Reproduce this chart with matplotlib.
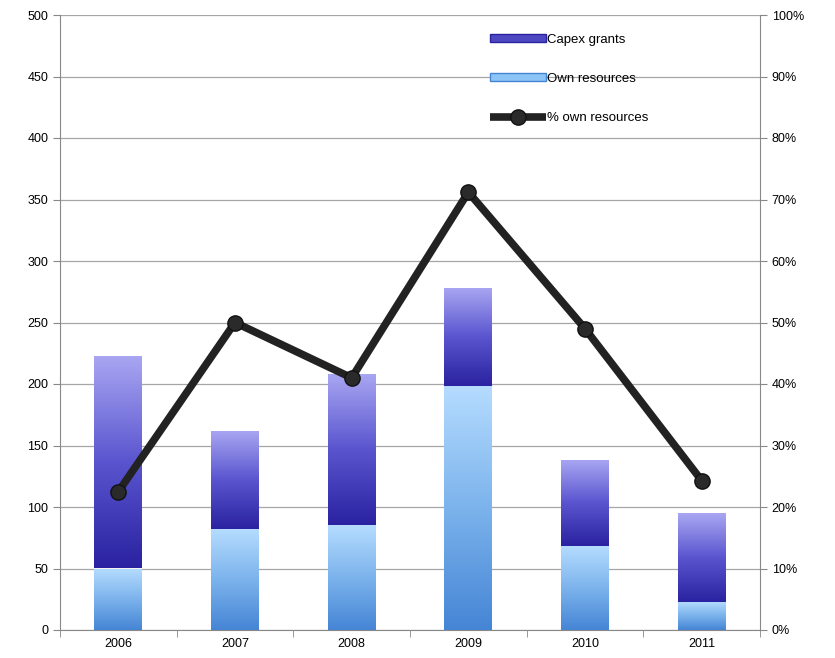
import numpy as np
import matplotlib
matplotlib.use("Agg")
import matplotlib.pyplot as plt
from matplotlib.colors import LinearSegmentedColormap
from matplotlib.ticker import PercentFormatter
from matplotlib.patches import Patch

plt.rcParams['font.family'] = ['Liberation Sans', 'DejaVu Sans']

years = ['2006', '2007', '2008', '2009', '2010', '2011']
own_resources = [50, 82, 85, 198, 68, 23]
capex_grants = [173, 80, 123, 80, 70, 72]
pct_own = [22.5, 50.0, 41.0, 71.2, 49.0, 24.3]

capex_cmap = LinearSegmentedColormap.from_list('capex', ['#2a22a0', '#5a55cf', '#a9a7f2'])
own_cmap = LinearSegmentedColormap.from_list('own', ['#4585d5', '#7cb3ec', '#b5dcff'])


def fill_gradient(ax, bars, cmap):
    # vertical gradient inside each bar
    grad = np.linspace(0, 1, 256).reshape(-1, 1)
    for b in bars:
        x0, y0 = b.get_x(), b.get_y()
        w, h = b.get_width(), b.get_height()
        im = ax.imshow(grad, cmap=cmap, origin='lower', aspect='auto',
                       extent=[x0, x0 + w, y0, y0 + h], zorder=2)
        im.set_clip_path(b)
        b.set_facecolor('none')


fig = plt.figure(figsize=(8.35, 6.58), dpi=100)
ax = fig.add_axes([60 / 835, 28 / 658, 700 / 835, 615 / 658])
x = np.arange(len(years))

b_own = ax.bar(x, own_resources, width=0.41, color='#7cb3ec', edgecolor='none', zorder=2)
b_cap = ax.bar(x, capex_grants, bottom=own_resources, width=0.41, color='#5a55cf',
               edgecolor='none', zorder=2)
fill_gradient(ax, b_own, own_cmap)
fill_gradient(ax, b_cap, capex_cmap)

ax.set_xlim(-0.5, len(years) - 0.5)
ax.set_ylim(0, 500)
ax.set_yticks(np.arange(0, 501, 50))
ax.set_xticks(x)
ax.set_xticklabels(years)
ax.set_xticks(np.arange(-0.5, len(years), 1), minor=True)
ax.tick_params(axis='x', which='major', length=0, labelsize=9, pad=6)
ax.tick_params(axis='x', which='minor', length=5, color='#888888', direction='out')
ax.tick_params(axis='y', labelsize=9, length=5, color='#888888')
ax.yaxis.grid(True, color='#a6a6a6', linewidth=0.9, zorder=0)
ax.set_axisbelow(True)
for s in ['top', 'right']:
    ax.spines[s].set_visible(False)
for s in ['left', 'bottom']:
    ax.spines[s].set_color('#888888')

ax2 = ax.twinx()
ax2.set_ylim(0, 100)
ax2.set_yticks(np.arange(0, 101, 10))
ax2.yaxis.set_major_formatter(PercentFormatter(decimals=0))
ax2.tick_params(axis='y', labelsize=9, length=5, color='#888888')
for s in ['top', 'left', 'bottom']:
    ax2.spines[s].set_visible(False)
ax2.spines['right'].set_color('#888888')
line, = ax2.plot(x, pct_own, color='#222222', linewidth=5.5, marker='o', markersize=11,
                 markerfacecolor='#2a2a2a', markeredgecolor='#111111', zorder=5,
                 solid_capstyle='butt')

handles = [Patch(facecolor='#4d48c2', edgecolor='#2a22a0'),
           Patch(facecolor='#8cc4f5', edgecolor='#4585d5'), line]
labels = ['Capex grants', 'Own resources', '% own resources']
ax2.legend(handles, labels, loc='upper left', bbox_to_anchor=(0.607, 0.978),
           frameon=False, fontsize=9.5, labelspacing=2.05, handlelength=4.2,
           handleheight=0.5, handletextpad=0.1, borderaxespad=0)

fig.savefig('out.png', dpi=100)
